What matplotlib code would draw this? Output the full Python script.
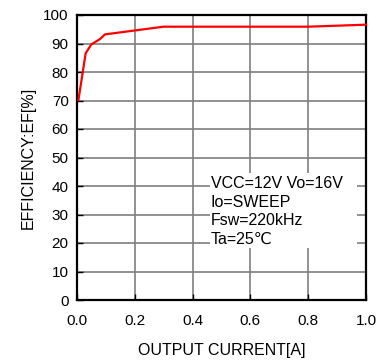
import matplotlib
matplotlib.use("Agg")
import matplotlib.pyplot as plt
from matplotlib.patches import Rectangle

# Efficiency vs output current
current_a = [0.005, 0.03, 0.05, 0.08, 0.097, 0.30, 0.80, 1.00]
efficiency_pct = [70.2, 86.6, 89.7, 91.6, 93.2, 95.9, 95.9, 96.6]

x_ticks = [0.0, 0.2, 0.4, 0.6, 0.8, 1.0]
y_ticks = list(range(0, 101, 10))

plt.rcParams['font.family'] = ['Liberation Sans', 'DejaVu Sans']

fig = plt.figure(figsize=(3.9, 3.63), dpi=100)
ax = fig.add_axes([77/390, 63/363, 289/390, 285/363])

ax.plot(current_a, efficiency_pct, color='#ff0000', linewidth=1.6, zorder=3, clip_on=False)

ax.set_xlim(0, 1.0)
ax.set_ylim(0, 100)
ax.set_xticks(x_ticks)
ax.set_xticklabels([f"{v:.1f}" for v in x_ticks])
ax.set_yticks(y_ticks)
ax.grid(True, color='#7f7f7f', linewidth=1.2)
ax.set_axisbelow(True)

for s in ax.spines.values():
    s.set_linewidth(1.6)
    s.set_color('black')

ax.tick_params(direction='in', length=4, width=1, labelsize=11, colors='black')
ax.tick_params(axis='x', pad=10)
ax.tick_params(axis='y', pad=6)

ax.set_xlabel("OUTPUT CURRENT[A]", fontsize=11.5)
ax.set_ylabel("EFFICIENCY:EF[%]", fontsize=11.5)
ax.xaxis.label.set_va('center')
ax.yaxis.label.set_va('center')
ax.xaxis.set_label_coords(0.5, -50/285)
ax.yaxis.set_label_coords(-49/289, 0.5)

# White panel behind the test-condition note
ax.add_patch(Rectangle((0.459, 18.2), 0.51, 26.4, facecolor='white',
                       edgecolor='none', zorder=2))
ax.text(0.462, 43.6, "VCC=12V Vo=16V\nIo=SWEEP\nFsw=220kHz\nTa=25\u2103",
        fontsize=11.5, ha='left', va='top', linespacing=1.32, zorder=4)

fig.savefig("out.png", dpi=100)
